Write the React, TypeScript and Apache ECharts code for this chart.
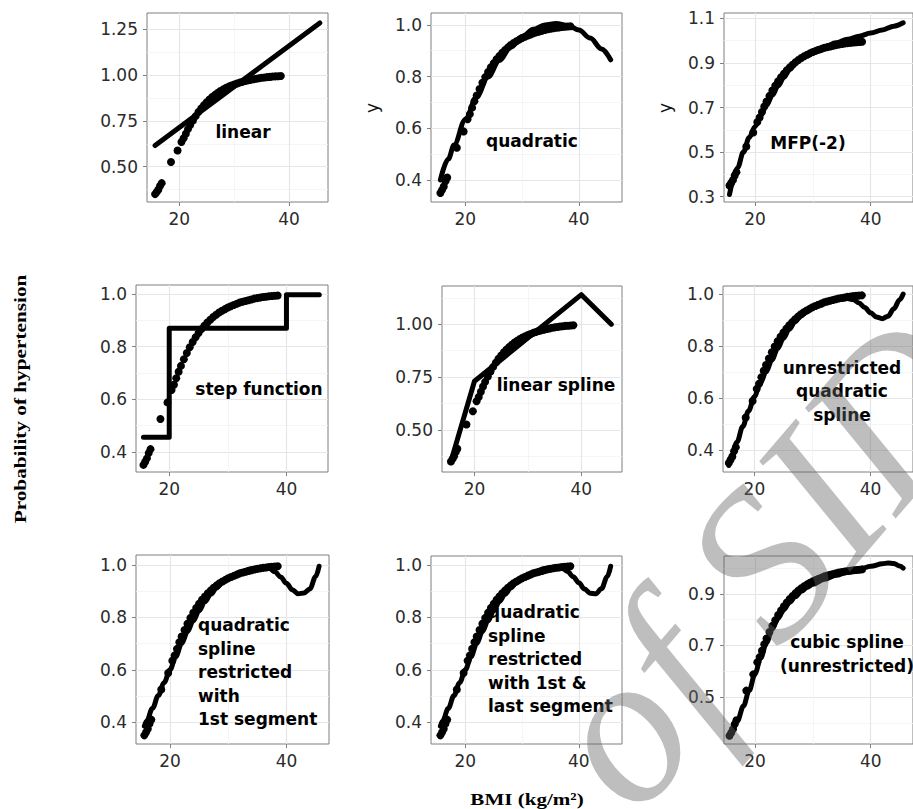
import React, { useEffect, useRef } from "react";
import * as echarts from "echarts";

// Observed data (BMI, probability of hypertension)
const obsBMI = [15.6, 15.9, 16.2, 16.5, 16.8, 18.5, 19.7, 20.4, 20.8, 21.2, 21.6, 22.0, 22.5, 23.0, 23.5, 24.0, 24.5, 25.0, 25.5, 26.0, 26.5, 27.0, 27.5, 28.0, 28.5, 29.0, 29.5, 30.0, 30.5, 31.0, 31.5, 32.0, 32.5, 33.0, 33.5, 34.0, 34.5, 35.0, 35.5, 36.0, 36.5, 37.0, 37.5, 38.0, 38.5];
const obsProb = [0.350, 0.362, 0.375, 0.395, 0.410, 0.525, 0.588, 0.635, 0.655, 0.680, 0.705, 0.727, 0.752, 0.776, 0.798, 0.818, 0.836, 0.852, 0.867, 0.880, 0.892, 0.903, 0.913, 0.922, 0.930, 0.937, 0.943, 0.949, 0.954, 0.959, 0.963, 0.968, 0.971, 0.974, 0.977, 0.980, 0.983, 0.985, 0.987, 0.989, 0.990, 0.992, 0.993, 0.994, 0.995];

// Fitted curves
const linearX = [15.6, 45.6];
const linearY = [0.615, 1.285];

const quadX = [15.6, 17, 18, 20, 22, 24, 26, 28, 30, 32, 34, 36, 38, 40, 42, 44, 45.6];
const quadY = [0.400, 0.481, 0.535, 0.634, 0.722, 0.798, 0.862, 0.914, 0.954, 0.983, 1.000, 1.005, 0.998, 0.980, 0.949, 0.907, 0.865];

const mfpX = [15.6, 17, 18, 19, 20, 21, 22, 23, 24, 25, 26, 27, 28, 30, 32, 34, 36, 38, 40, 42, 44, 45.6];
const mfpY = [0.310, 0.430, 0.500, 0.565, 0.614, 0.665, 0.710, 0.755, 0.797, 0.835, 0.870, 0.900, 0.925, 0.952, 0.972, 0.990, 1.006, 1.020, 1.034, 1.048, 1.065, 1.080];

const stepX = [15.6, 20, 20, 40, 40, 45.6];
const stepY = [0.455, 0.455, 0.870, 0.870, 0.998, 0.998];

const linSplineX = [15.6, 20, 40, 45.6];
const linSplineY = [0.350, 0.730, 1.140, 1.000];

const quadSplineX = [15.6, 16, 17, 18, 19, 20, 21, 22, 23, 24, 25, 26, 27, 28, 29, 30, 32, 34, 36, 37, 38, 39, 40, 41, 42, 43, 44, 45, 45.6];
const quadSplineY = [0.340, 0.365, 0.430, 0.490, 0.550, 0.605, 0.655, 0.700, 0.745, 0.790, 0.830, 0.865, 0.893, 0.915, 0.932, 0.946, 0.966, 0.978, 0.983, 0.979, 0.966, 0.948, 0.928, 0.912, 0.905, 0.915, 0.943, 0.978, 1.000];

const restr1X = [15.6, 16, 17, 18, 19, 20, 21, 22, 23, 24, 25, 26, 27, 28, 29, 30, 32, 34, 36, 37, 38, 39, 40, 41, 42, 43, 44, 45, 45.6];
const restr1Y = [0.385, 0.405, 0.453, 0.502, 0.551, 0.600, 0.650, 0.700, 0.745, 0.787, 0.825, 0.860, 0.888, 0.912, 0.932, 0.948, 0.972, 0.986, 0.992, 0.988, 0.974, 0.954, 0.930, 0.905, 0.890, 0.893, 0.908, 0.955, 0.995];

const restr2X = [15.6, 16, 17, 18, 19, 20, 21, 22, 23, 24, 25, 26, 27, 28, 29, 30, 32, 34, 36, 37, 38, 39, 40, 41, 42, 43, 44, 45, 45.6];
const restr2Y = [0.385, 0.405, 0.453, 0.502, 0.551, 0.600, 0.650, 0.700, 0.745, 0.787, 0.825, 0.860, 0.888, 0.912, 0.932, 0.948, 0.972, 0.986, 0.992, 0.988, 0.975, 0.955, 0.932, 0.908, 0.892, 0.890, 0.910, 0.955, 0.995];

const cubicX = [15.6, 16, 17, 18, 19, 20, 21, 22, 23, 24, 25, 26, 27, 28, 29, 30, 32, 34, 36, 38, 40, 42, 43, 44, 45, 45.6];
const cubicY = [0.350, 0.365, 0.410, 0.465, 0.525, 0.590, 0.652, 0.712, 0.765, 0.805, 0.840, 0.868, 0.890, 0.910, 0.925, 0.937, 0.957, 0.972, 0.985, 0.996, 1.007, 1.017, 1.020, 1.018, 1.008, 1.000];

const xTicks = [20, 40];
const xMinor = [30];

const panelLabels = ["linear", "quadratic", "MFP(-2)", "step function", "linear spline", "unrestricted\nquadratic\nspline", "quadratic\nspline\nrestricted\nwith\n1st segment", "quadratic\nspline\nrestricted\nwith 1st &\nlast segment", "cubic spline\n(unrestricted)"];

const xTitle = "BMI (kg/m²)";
const yTitle = "Probability of hypertension";

const panels = [
  { fx: linearX, fy: linearY, smooth: false, box: [147, 13, 328, 202], xr: [14.13, 47.09], yr: [0.307, 1.339], yMajor: [0.5, 0.75, 1.0, 1.25], yMinor: [0.375, 0.625, 0.875, 1.125], dig: 2, lab: [243, 132, "center"], yName: null },
  { fx: quadX, fy: quadY, smooth: true, box: [431, 13, 622, 202], xr: [13.95, 47.6], yr: [0.315, 1.046], yMajor: [0.4, 0.6, 0.8, 1.0], yMinor: [0.5, 0.7, 0.9], dig: 1, lab: [532, 141, "center"], yName: [372, 108] },
  { fx: mfpX, fy: mfpY, smooth: true, box: [724, 13, 918, 202], xr: [14.65, 47.3], yr: [0.276, 1.124], yMajor: [0.3, 0.5, 0.7, 0.9, 1.1], yMinor: [0.4, 0.6, 0.8, 1.0], dig: 1, lab: [808, 143, "center"], yName: [665, 108] },
  { fx: stepX, fy: stepY, smooth: false, box: [136, 285, 328, 472], xr: [14.33, 47.09], yr: [0.323, 1.035], yMajor: [0.4, 0.6, 0.8, 1.0], yMinor: [0.5, 0.7, 0.9], dig: 1, lab: [259, 389, "center"], yName: null },
  { fx: linSplineX, fy: linSplineY, smooth: false, box: [442, 286, 622, 472], xr: [13.93, 47.6], yr: [0.3, 1.181], yMajor: [0.5, 0.75, 1.0], yMinor: [0.375, 0.625, 0.875, 1.125], dig: 2, lab: [556, 385, "center"], yName: null },
  { fx: quadSplineX, fy: quadSplineY, smooth: true, box: [723, 286, 918, 472], xr: [14.6, 47.3], yr: [0.315, 1.031], yMajor: [0.4, 0.6, 0.8, 1.0], yMinor: [0.5, 0.7, 0.9], dig: 1, lab: [842, 391, "center"], yName: null },
  { fx: restr1X, fy: restr1Y, smooth: true, box: [136, 555, 329, 744], xr: [14.17, 47.3], yr: [0.317, 1.038], yMajor: [0.4, 0.6, 0.8, 1.0], yMinor: [0.5, 0.7, 0.9], dig: 1, lab: [198, 672, "left"], yName: null },
  { fx: restr2X, fy: restr2Y, smooth: true, box: [431, 556, 622, 744], xr: [13.95, 47.6], yr: [0.317, 1.034], yMajor: [0.4, 0.6, 0.8, 1.0], yMinor: [0.5, 0.7, 0.9], dig: 1, lab: [488, 659, "left"], yName: null },
  { fx: cubicX, fy: cubicY, smooth: true, box: [724, 556, 918, 744], xr: [14.65, 47.3], yr: [0.318, 1.047], yMajor: [0.5, 0.7, 0.9], yMinor: [0.4, 0.6, 0.8, 1.0], dig: 1, lab: [847, 654, "center"], yName: null },
];

const SANS = "DejaVu Sans";
const SERIF = "Liberation Serif";

export default function App() {
  const ref = useRef<HTMLDivElement>(null);
  useEffect(() => {
    if (!ref.current) return;
    const chart = echarts.init(ref.current, null, { renderer: "svg" });
    const grid: any[] = [];
    const xAxis: any[] = [];
    const yAxis: any[] = [];
    const series: any[] = [];
    const graphic: any[] = [];
    panels.forEach((p) => {
      grid.push({ left: p.box[0], top: p.box[1], width: p.box[2] - p.box[0], height: p.box[3] - p.box[1], show: true, borderColor: "#7f7f7f", borderWidth: 1, backgroundColor: "#fff", containLabel: false });
    });
    // major axes
    panels.forEach((p, i) => {
      xAxis.push({
        gridIndex: i, type: "value", min: p.xr[0], max: p.xr[1],
        axisLine: { show: false },
        axisTick: { show: true, customValues: xTicks, length: 4, lineStyle: { color: "#7f7f7f" } },
        axisLabel: { customValues: xTicks, color: "#2b2b2b", fontSize: 17, fontFamily: SANS, margin: 8 },
        splitLine: { show: true, lineStyle: { color: "#e6e6e6", width: 1.2 } },
      });
      yAxis.push({
        gridIndex: i, type: "value", min: p.yr[0], max: p.yr[1],
        axisLine: { show: false },
        axisTick: { show: true, customValues: p.yMajor, length: 4, lineStyle: { color: "#7f7f7f" } },
        axisLabel: { customValues: p.yMajor, color: "#2b2b2b", fontSize: 17, fontFamily: SANS, margin: 9, formatter: (v: number) => v.toFixed(p.dig) },
        splitLine: { show: true, lineStyle: { color: "#e6e6e6", width: 1.2 } },
      });
    });
    // minor axes
    panels.forEach((p, i) => {
      xAxis.push({
        gridIndex: i, type: "value", min: p.xr[0], max: p.xr[1], position: "bottom",
        axisLine: { show: false },
        axisTick: { show: false, customValues: xMinor },
        axisLabel: { show: false, customValues: xMinor },
        splitLine: { show: true, lineStyle: { color: "#f3f3f3", width: 0.8 } },
      });
      yAxis.push({
        gridIndex: i, type: "value", min: p.yr[0], max: p.yr[1], position: "left",
        axisLine: { show: false },
        axisTick: { show: false, customValues: p.yMinor },
        axisLabel: { show: false, customValues: p.yMinor },
        splitLine: { show: true, lineStyle: { color: "#f3f3f3", width: 0.8 } },
      });
    });
    panels.forEach((p, i) => {
      series.push({
        type: "scatter", xAxisIndex: i, yAxisIndex: i, symbol: "circle", symbolSize: 8,
        itemStyle: { color: "#000", opacity: 1 }, silent: true,
        data: obsBMI.map((x, k) => [x, obsProb[k]]), z: 3,
      });
      series.push({
        type: "line", xAxisIndex: i, yAxisIndex: i, showSymbol: false, symbol: "none",
        smooth: p.smooth ? 0.35 : false, smoothMonotone: p.smooth ? "x" : undefined,
        lineStyle: { color: "#000", width: 5, cap: "round", join: "round", opacity: 1 },
        data: p.fx.map((x, k) => [x, p.fy[k]]), z: 4, silent: true,
      });
      graphic.push({
        type: "text", x: p.lab[0], y: p.lab[1], z: 10,
        style: { text: panelLabels[i], fill: "#000", font: `bold 17px "${SANS}"`, textAlign: p.lab[2], textVerticalAlign: "middle", lineHeight: 23.5 },
      });
      if (p.yName) {
        graphic.push({
          type: "text", x: p.yName[0], y: p.yName[1], rotation: Math.PI / 2, z: 10,
          style: { text: "y", fill: "#111", font: `17px "${SANS}"`, textAlign: "center", textVerticalAlign: "middle" },
        });
      }
    });
    graphic.push({
      type: "text", x: 527, y: 799, scaleX: 1.24, z: 10,
      style: { text: xTitle, fill: "#000", font: `bold 17px "${SERIF}"`, textAlign: "center", textVerticalAlign: "middle" },
    });
    graphic.push({
      type: "text", x: 20, y: 399, rotation: Math.PI / 2, scaleX: 1.25, z: 10,
      style: { text: yTitle, fill: "#000", font: `bold 17px "${SERIF}"`, textAlign: "center", textVerticalAlign: "middle" },
    });
    // watermark
    graphic.push({
      type: "text", x: 762, y: 562, rotation: 0.86, z: 100,
      style: { text: "of SID", fill: "rgba(100,100,100,0.42)", font: `italic 215px "${SERIF}"`, textAlign: "center", textVerticalAlign: "middle" },
    });
    chart.setOption({
      animation: false,
      backgroundColor: "#fff",
      grid, xAxis, yAxis, series, graphic,
    });
    return () => chart.dispose();
  }, []);
  return <div ref={ref} style={{ position: "absolute", left: 0, top: 0, width: 913, height: 809 }} />;
}
